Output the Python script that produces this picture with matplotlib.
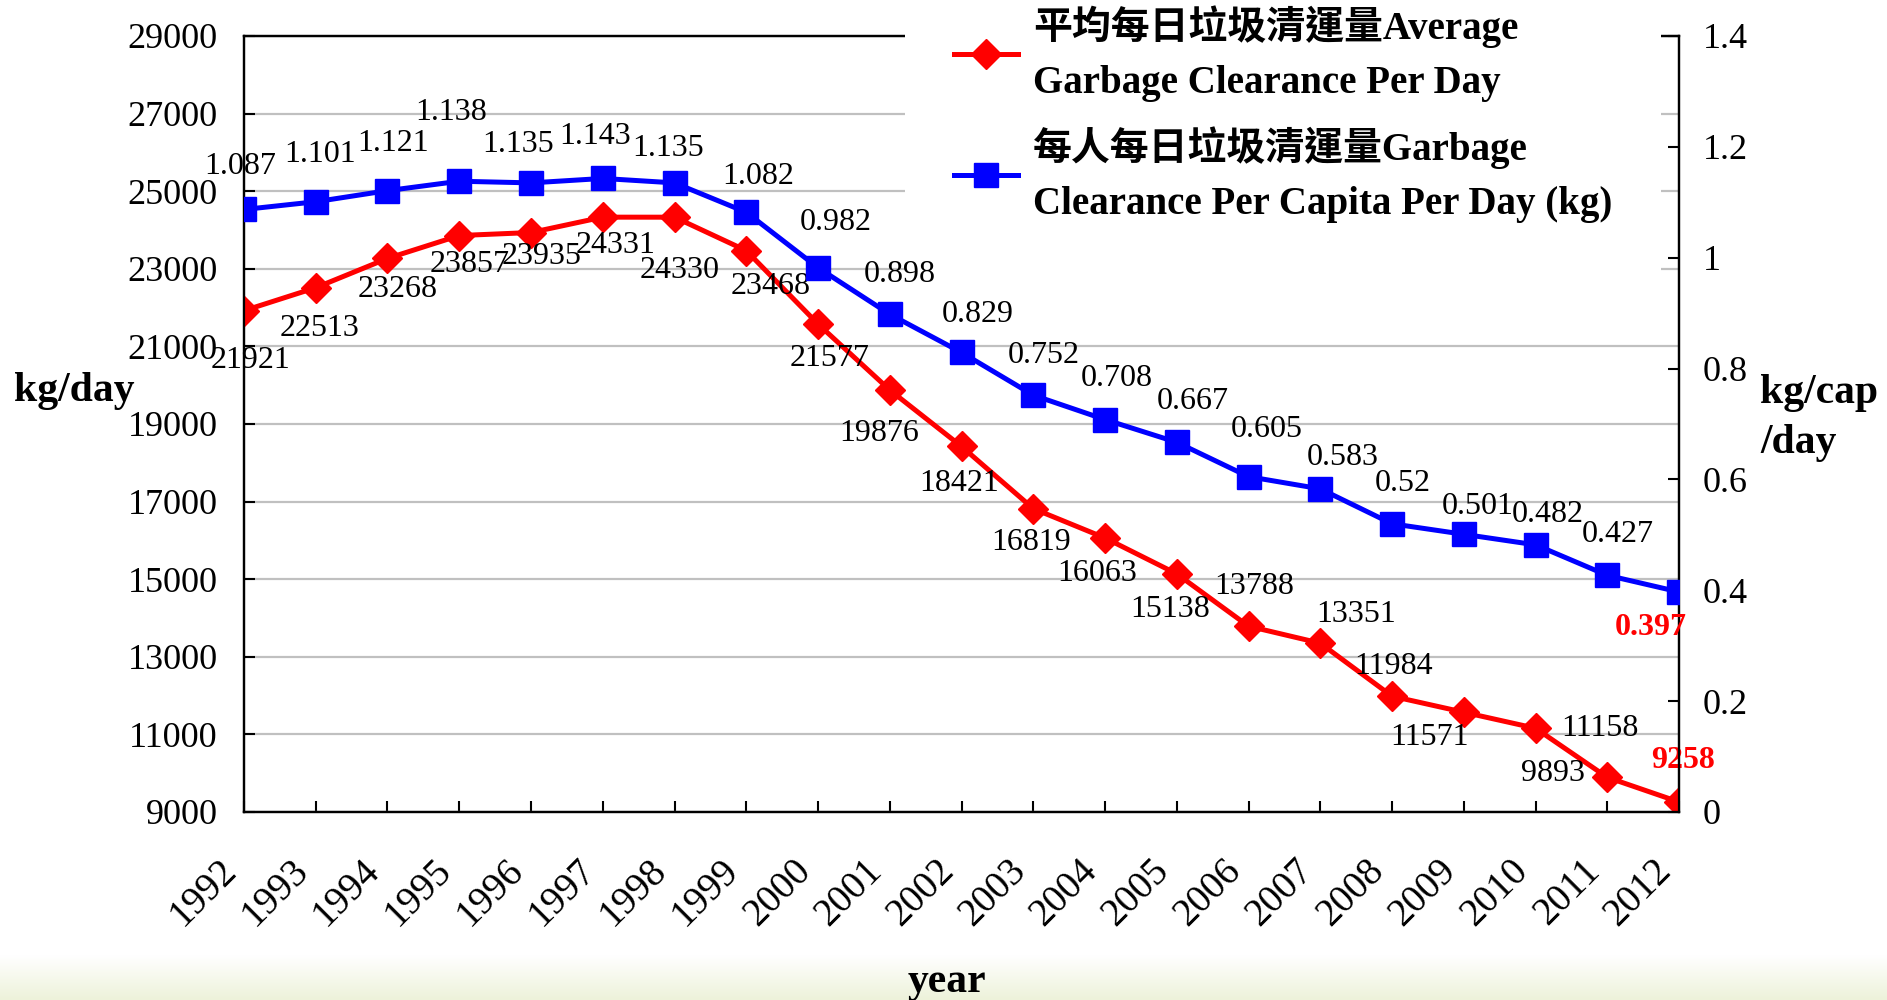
import numpy as np
import matplotlib
matplotlib.use("Agg")
import matplotlib.pyplot as plt
import matplotlib.transforms as mtrans
from matplotlib.lines import Line2D
from matplotlib.colors import LinearSegmentedColormap

plt.rcParams["font.family"] = ["Liberation Serif", "Noto Sans CJK TC"]

years = list(range(1992, 2013))
daily_kg = [21921, 22513, 23268, 23857, 23935, 24331, 24330, 23468, 21577, 19876,
            18421, 16819, 16063, 15138, 13788, 13351, 11984, 11571, 11158, 9893, 9258]
per_capita = [1.087, 1.101, 1.121, 1.138, 1.135, 1.143, 1.135, 1.082, 0.982, 0.898,
              0.829, 0.752, 0.708, 0.667, 0.605, 0.583, 0.52, 0.501, 0.482, 0.427, 0.397]

label_daily = "平均每日垃圾清運量Average\nGarbage Clearance Per Day"
label_capita = "每人每日垃圾清運量Garbage\nClearance Per Capita Per Day (kg)"

# where each value label sits relative to its marker (pixels, right / up)
red_off = [(7, -50), (4, -41), (10, -31), (10, -29), (11, -24), (13, -28), (5, -53),
           (24, -36), (12, -34), (-11, -43), (-2, -37), (-2, -34), (-8, -36), (-7, -36),
           (6, 40), (36, 29), (2, 30), (-34, -25), (64, 0), (-54, 4), (4, 41)]
blue_off = [(-4, 43), (4, 47), (6, 47), (-8, 69), (-13, 38), (-8, 42), (-6, 34),
            (12, 36), (18, 45), (10, 40), (16, 38), (10, 40), (12, 41), (16, 41),
            (18, 47), (22, 31), (11, 40), (14, 28), (12, 30), (10, 41), (-28, -36)]

RED = "#FF0000"
BLUE = "#0000FF"

fig = plt.figure(figsize=(18.87, 10), dpi=100)

# pale green band at the bottom
bg = fig.add_axes([0, 0, 1, 0.045], zorder=-10)
cmap = LinearSegmentedColormap.from_list("band", ["#FFFFFF", "#EDF2DA"])
bg.imshow(np.linspace(0, 1, 50).reshape(-1, 1), aspect="auto", cmap=cmap,
          extent=[0, 1, 0, 1], origin="upper")
bg.axis("off")

ax = fig.add_axes([0.1293, 0.188, 0.7605, 0.776])
ax2 = ax.twinx()

ax.plot(years, daily_kg, color=RED, lw=3.6, marker="D", ms=15, mew=1, zorder=3)
ax2.plot(years, per_capita, color=BLUE, lw=3.6, marker="s", ms=17, mew=1, zorder=3)

for i, (yr, v) in enumerate(zip(years, daily_kg)):
    last = i == len(years) - 1
    ax.annotate(str(v), (yr, v), xytext=red_off[i], textcoords="offset pixels",
                ha="center", va="center", fontsize=23,
                color=RED if last else "black",
                fontweight="bold" if last else "normal", zorder=4)

# blue labels sit above the legend box so 0.898 is not hidden
for i, (yr, v) in enumerate(zip(years, per_capita)):
    last = i == len(years) - 1
    ax2.annotate(f"{v:g}", (yr, v), xytext=blue_off[i], textcoords="offset pixels",
                 ha="center", va="center", fontsize=23,
                 color=RED if last else "black",
                 fontweight="bold" if last else "normal", zorder=11)

ax.set_xlim(1992, 2012)
ax.set_ylim(9000, 29000)
ax.set_yticks(range(9000, 29001, 2000))
ax2.set_ylim(0, 1.4)
ax2.set_yticks(np.arange(0, 1.41, 0.2))
ax2.yaxis.set_major_formatter(plt.FuncFormatter(lambda v, _: f"{v:g}"))

ax.set_xticks(years)
ax.set_xticklabels([str(y) for y in years], rotation=45, ha="right", va="top",
                   fontsize=28)
shift = mtrans.ScaledTranslation(-16 / 100, 0, fig.dpi_scale_trans)
for lbl in ax.get_xticklabels():
    lbl.set_transform(lbl.get_transform() + shift)

ax.yaxis.grid(True, color="#C0C0C0", lw=1.6)
ax.set_axisbelow(True)

ax.tick_params(axis="both", direction="in", length=8, width=1.5)
ax.tick_params(axis="y", labelsize=26, pad=19)
ax.tick_params(axis="x", pad=29)
ax2.tick_params(axis="y", direction="in", length=8, width=1.5, labelsize=26, pad=17)

for a in (ax, ax2):
    for sp in a.spines.values():
        sp.set_linewidth(1.6)
        sp.set_color("black")

fig.text(14 / 1887, 1 - 391 / 1000, "kg/day", fontsize=30, fontweight="bold",
         ha="left", va="center")
fig.text(1760 / 1887, 1 - 418 / 1000, "kg/cap\n/day", fontsize=30, fontweight="bold",
         ha="left", va="center", linespacing=1.38)
fig.text(947 / 1887, 1 - 992 / 1000, "year", fontsize=30, fontweight="bold",
         ha="center", va="baseline")

handles = [
    Line2D([], [], color=RED, lw=3.6, marker="D", ms=15),
    Line2D([], [], color=BLUE, lw=3.6, marker="s", ms=17),
]
leg = ax2.legend(handles, [label_daily, label_capita], loc="upper left",
                 bbox_to_anchor=(905 / 1887, 1.043), bbox_transform=fig.transFigure,
                 frameon=True, facecolor="white", edgecolor="none", framealpha=1,
                 fancybox=False, borderpad=1.25, borderaxespad=0, handlelength=1.65,
                 handletextpad=0.4, labelspacing=0.63,
                 prop={"size": 28, "weight": "bold"})
leg.set_zorder(10)
for t in leg.get_texts():
    t.set_linespacing(1.6)

fig.savefig("out.png", dpi=100)
